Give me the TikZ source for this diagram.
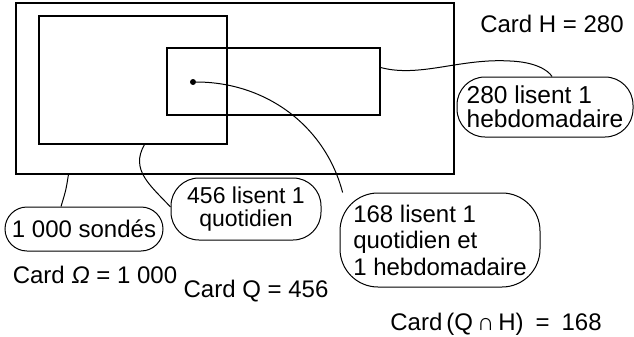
\documentclass[tikz,border=0pt]{standalone}
\usepackage{fontspec}
\setmainfont{Liberation Sans}
\usetikzlibrary{positioning,calc}
\tikzset{
  setbox/.style={draw,line width=1.1pt,inner sep=0pt},
  bubble/.style={draw,line width=1pt,rounded corners=#1,inner sep=0pt},
  cardlabel/.style={font=\fontsize{24}{26}\selectfont,inner sep=0pt,anchor=base},
  link/.style={line width=1pt}
}
\begin{document}
\begin{tikzpicture}[x=1pt,y=-1pt]
  \useasboundingbox (0,0) rectangle (634,337);
  % ensembles
  \node[setbox,minimum width=438pt,minimum height=171pt] (omega) at (235,88.5) {};
  \node[setbox,minimum width=188pt,minimum height=128pt] (quot) at (133,80) {};
  \node[setbox,minimum width=213pt,minimum height=67pt] (hebdo) at (273.5,81.5) {};
  \node[circle,fill,inner sep=0pt,minimum size=6pt] (pt) at (193,82) {};
  % bulles
  \node[bubble=22pt,minimum width=158pt,minimum height=44pt,
    font=\fontsize{24}{26}\selectfont] (sondes) at (84,229) {1 000 sondés};
  \node[bubble=28pt,minimum width=150pt,minimum height=62pt,align=center,
    font=\fontsize{23}{23}\selectfont] (lq) at (246,209) {456 lisent 1\\quotidien};
  \node[bubble=38pt,minimum width=200pt,minimum height=94pt,align=left,
    font=\fontsize{24}{26.5}\selectfont] (lqh) at (440,240) {168 lisent 1\\quotidien et\\1 hebdomadaire};
  \node[bubble=28pt,minimum width=176pt,minimum height=60pt,align=left,
    font=\fontsize{24.5}{24}\selectfont] (lh) at (545,107) {280 lisent 1\\hebdomadaire};
  % cardinaux
  \node[cardlabel] (cardH) at (552,33) {Card H = 280};
  \node[cardlabel] (cardO) at (95,283) {Card {\itshape Ω} = 1 000};
  \node[cardlabel] (cardQ) at (256,297) {Card Q = 456};
  \node[cardlabel] (cardQH) at (496,330) {Card\,(Q\,∩\,H)\enspace=\enspace168};
  % liens
  \coordinate (omfoot) at ($(omega.south west)+(53,0)$);
  \coordinate (qfoot) at ($(quot.south west)+(106,0)$);
  \coordinate (hside) at ($(hebdo.east)+(0,-14)$);
  \draw[link] (omfoot) .. controls (66,190) .. ($(sondes.north)+(-23,0)$);
  \draw[link] (qfoot) .. controls (130,170) and (150,185) .. ($(lq.west)+(0,-2)$);
  \draw[link] (pt) .. controls (265,82) and (325,125) .. (lqh.154);
  \draw[link] (hside) .. controls (420,78) and (460,58) .. (510,61)
    .. controls (535,62) and (548,70) .. ($(lh.north)+(7,0)$);
\end{tikzpicture}
\end{document}
